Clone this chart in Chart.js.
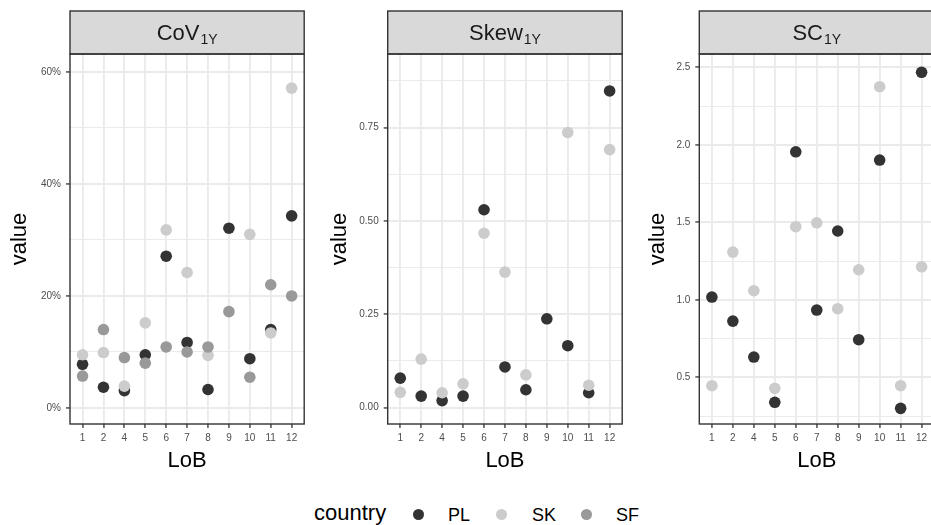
<!DOCTYPE html>
<html>
<head>
<meta charset="utf-8">
<script src="https://cdn.jsdelivr.net/npm/chart.js@4.4.1/dist/chart.umd.min.js"></script>
<style>
  html, body { margin: 0; padding: 0; background: #fff; overflow: hidden; }
  #wrap { position: relative; width: 931px; height: 525px; overflow: hidden;
          font-family: "Liberation Sans", Arial, sans-serif; }
  #wrap canvas { position: absolute; top: 0; }
  .leg { position: absolute; color: #000; white-space: nowrap; }
  .dot { position: absolute; width: 11px; height: 11px; border-radius: 50%; }
</style>
</head>
<body>
<div id="wrap">
  <canvas id="covChart"></canvas>
  <canvas id="skewChart"></canvas>
  <canvas id="scChart"></canvas>
</div>
<script>
// ======================
// DATA
// ======================
const lobs = ["1", "2", "4", "5", "6", "7", "8", "9", "10", "11", "12"];
const countries = ["PL", "SK", "SF"];
const countryColors = ["#333333", "#cccccc", "#999999"];

// CoV 1Y, in percent
const covPL = [7.8, 3.7, 3.1, 9.5, 27.1, 11.7, 3.3, 32.1, 8.8, 14.0, 34.3];
const covSK = [9.5, 9.9, 3.9, 15.2, 31.8, 24.2, 9.4, null, 31.0, 13.4, 57.1];
const covSF = [5.7, 14.0, 9.0, 8.0, 10.9, 10.0, 10.9, 17.2, 5.5, 22.0, 20.0];

// Skew 1Y
const skewPL = [0.079, 0.031, 0.019, 0.031, 0.530, 0.109, 0.048, 0.238, 0.166, 0.040, 0.848];
const skewSK = [0.041, 0.130, 0.040, 0.064, 0.467, 0.363, 0.088, null, 0.737, 0.060, 0.691];

// SC 1Y
const scPL = [1.018, 0.863, 0.631, 0.339, 1.955, 0.934, 1.444, 0.743, 1.902, 0.300, 2.468];
const scSK = [0.446, 1.308, 1.059, 0.429, 1.472, 1.497, 0.943, 1.194, 2.375, 0.446, 1.213];

// y axis ranges / ticks
const covTicks = { min: -2.86, max: 63.2, minor: 10, major: 20 };
const skewTicks = { min: -0.0437, max: 0.947, minor: 0.125, major: 0.25 };
const scTicks = { min: 0.199, max: 2.586, minor: 0.25, major: 0.5 };

// ======================
// SETUP
// ======================
const FONT = '"Liberation Sans", Arial, sans-serif';
Chart.defaults.font.family = FONT;

const stripPlugin = {
  id: "stripFrame",
  afterDraw(chart, args, opts) {
    const ctx = chart.ctx;
    const a = chart.chartArea;
    const w = a.right - a.left;
    ctx.save();
    ctx.fillStyle = "#d9d9d9";
    ctx.fillRect(a.left, 11, w, a.top - 11);
    ctx.strokeStyle = "#333333";
    ctx.lineWidth = 1.4;
    ctx.strokeRect(a.left, 11, w, a.top - 11);
    ctx.strokeRect(a.left, a.top, w, a.bottom - a.top);

    ctx.fillStyle = "#1a1a1a";
    ctx.textAlign = "left";
    ctx.textBaseline = "alphabetic";
    ctx.font = "22px " + FONT;
    const w1 = ctx.measureText(opts.main).width;
    ctx.font = "14px " + FONT;
    const w2 = ctx.measureText(opts.sub).width;
    const x = (a.left + a.right) / 2 - (w1 + w2 + 1) / 2;
    ctx.font = "22px " + FONT;
    ctx.fillText(opts.main, x, 39.5);
    ctx.font = "14px " + FONT;
    ctx.fillText(opts.sub, x + w1 + 1, 44);
    ctx.restore();
  }
};

function toPoints(values) {
  return values
    .map((v, i) => ({ x: i, y: v }))
    .filter(p => p.y !== null);
}

function makePanel(p) {
  const canvas = document.getElementById(p.id);
  const width = Math.ceil(p.plotRight - p.left + 5);
  const height = 472;
  canvas.width = width;
  canvas.height = height;
  canvas.style.left = p.left + "px";
  canvas.style.width = width + "px";
  canvas.style.height = height + "px";

  const yW = p.plotLeft - p.left;
  const padRight = width - (p.plotRight - p.left);
  const t = p.ticks;
  const isMajor = v =>
    Math.abs(v / t.major - Math.round(v / t.major)) < 1e-6;

  const datasets = p.series.map((vals, k) => ({
    label: countries[k],
    data: toPoints(vals),
    backgroundColor: countryColors[k],
    pointBackgroundColor: countryColors[k],
    pointBorderWidth: 0,
    pointRadius: 5.8,
    pointHoverRadius: 5.8,
    order: 10 - k
  }));

  return new Chart(canvas.getContext("2d"), {
    type: "scatter",
    data: { datasets },
    options: {
      responsive: false,
      animation: false,
      devicePixelRatio: 1,
      layout: { padding: { top: 54, right: padRight, left: 0, bottom: 0 } },
      plugins: {
        legend: { display: false },
        tooltip: { enabled: false },
        stripFrame: { main: p.main, sub: p.sub }
      },
      scales: {
        x: {
          type: "linear",
          min: -0.6,
          max: lobs.length - 0.4,
          afterFit: s => { s.height = 48; },
          ticks: {
            stepSize: 1,
            includeBounds: false,
            autoSkip: false,
            maxRotation: 0,
            color: "#4d4d4d",
            font: { size: 10 },
            padding: 4,
            callback: v => lobs[v] ?? ""
          },
          grid: {
            color: "#ebebeb",
            lineWidth: 1.9,
            tickColor: "#333333",
            tickLength: 4,
            tickWidth: 1.3
          },
          border: { display: false },
          title: {
            display: true,
            text: "LoB",
            color: "#000",
            font: { size: 22, lineHeight: 1 },
            padding: 0
          }
        },
        y: {
          type: "linear",
          min: t.min,
          max: t.max,
          afterFit: s => { s.width = yW; },
          ticks: {
            stepSize: t.minor,
            includeBounds: false,
            autoSkip: false,
            color: "#4d4d4d",
            font: { size: 10 },
            padding: 5,
            callback: v => isMajor(v) ? p.fmt(v) : ""
          },
          grid: {
            color: "#ebebeb",
            lineWidth: c => isMajor(c.tick.value) ? 1.9 : 1.0,
            tickColor: c => isMajor(c.tick.value) ? "#333333" : "rgba(0,0,0,0)",
            tickLength: 4,
            tickWidth: 1.3
          },
          border: { display: false },
          title: {
            display: true,
            text: "value",
            color: "#000",
            font: { size: 22, lineHeight: 1 },
            padding: 0
          }
        }
      }
    },
    plugins: [stripPlugin]
  });
}

// ======================
// PANELS
// ======================
makePanel({
  id: "covChart", left: 9, plotLeft: 70, plotRight: 305,
  main: "CoV", sub: "1Y", ticks: covTicks,
  fmt: v => Math.round(v) + "%",
  series: [covPL, covSK, covSF]
});

makePanel({
  id: "skewChart", left: 329, plotLeft: 387.7, plotRight: 622.7,
  main: "Skew", sub: "1Y", ticks: skewTicks,
  fmt: v => v.toFixed(2),
  series: [skewPL, skewSK]
});

makePanel({
  id: "scChart", left: 647, plotLeft: 699.3, plotRight: 934.3,
  main: "SC", sub: "1Y", ticks: scTicks,
  fmt: v => v.toFixed(1),
  series: [scPL, scSK]
});

// ======================
// LEGEND
// ======================
const wrap = document.getElementById("wrap");
const legTitle = document.createElement("div");
legTitle.className = "leg";
legTitle.textContent = "country";
legTitle.style.cssText = "left:314px;top:502px;font-size:22px;line-height:22px;";
wrap.appendChild(legTitle);

const dotX = [418, 501, 586];
const textX = [448, 532, 616];
countries.forEach((c, k) => {
  const d = document.createElement("div");
  d.className = "dot";
  d.style.left = (dotX[k] - 5.5) + "px";
  d.style.top = (514 - 5.5) + "px";
  d.style.background = countryColors[k];
  wrap.appendChild(d);

  const s = document.createElement("div");
  s.className = "leg";
  s.textContent = c;
  s.style.cssText = "left:" + textX[k] + "px;top:505.5px;font-size:18px;line-height:18px;";
  wrap.appendChild(s);
});
</script>
</body>
</html>
